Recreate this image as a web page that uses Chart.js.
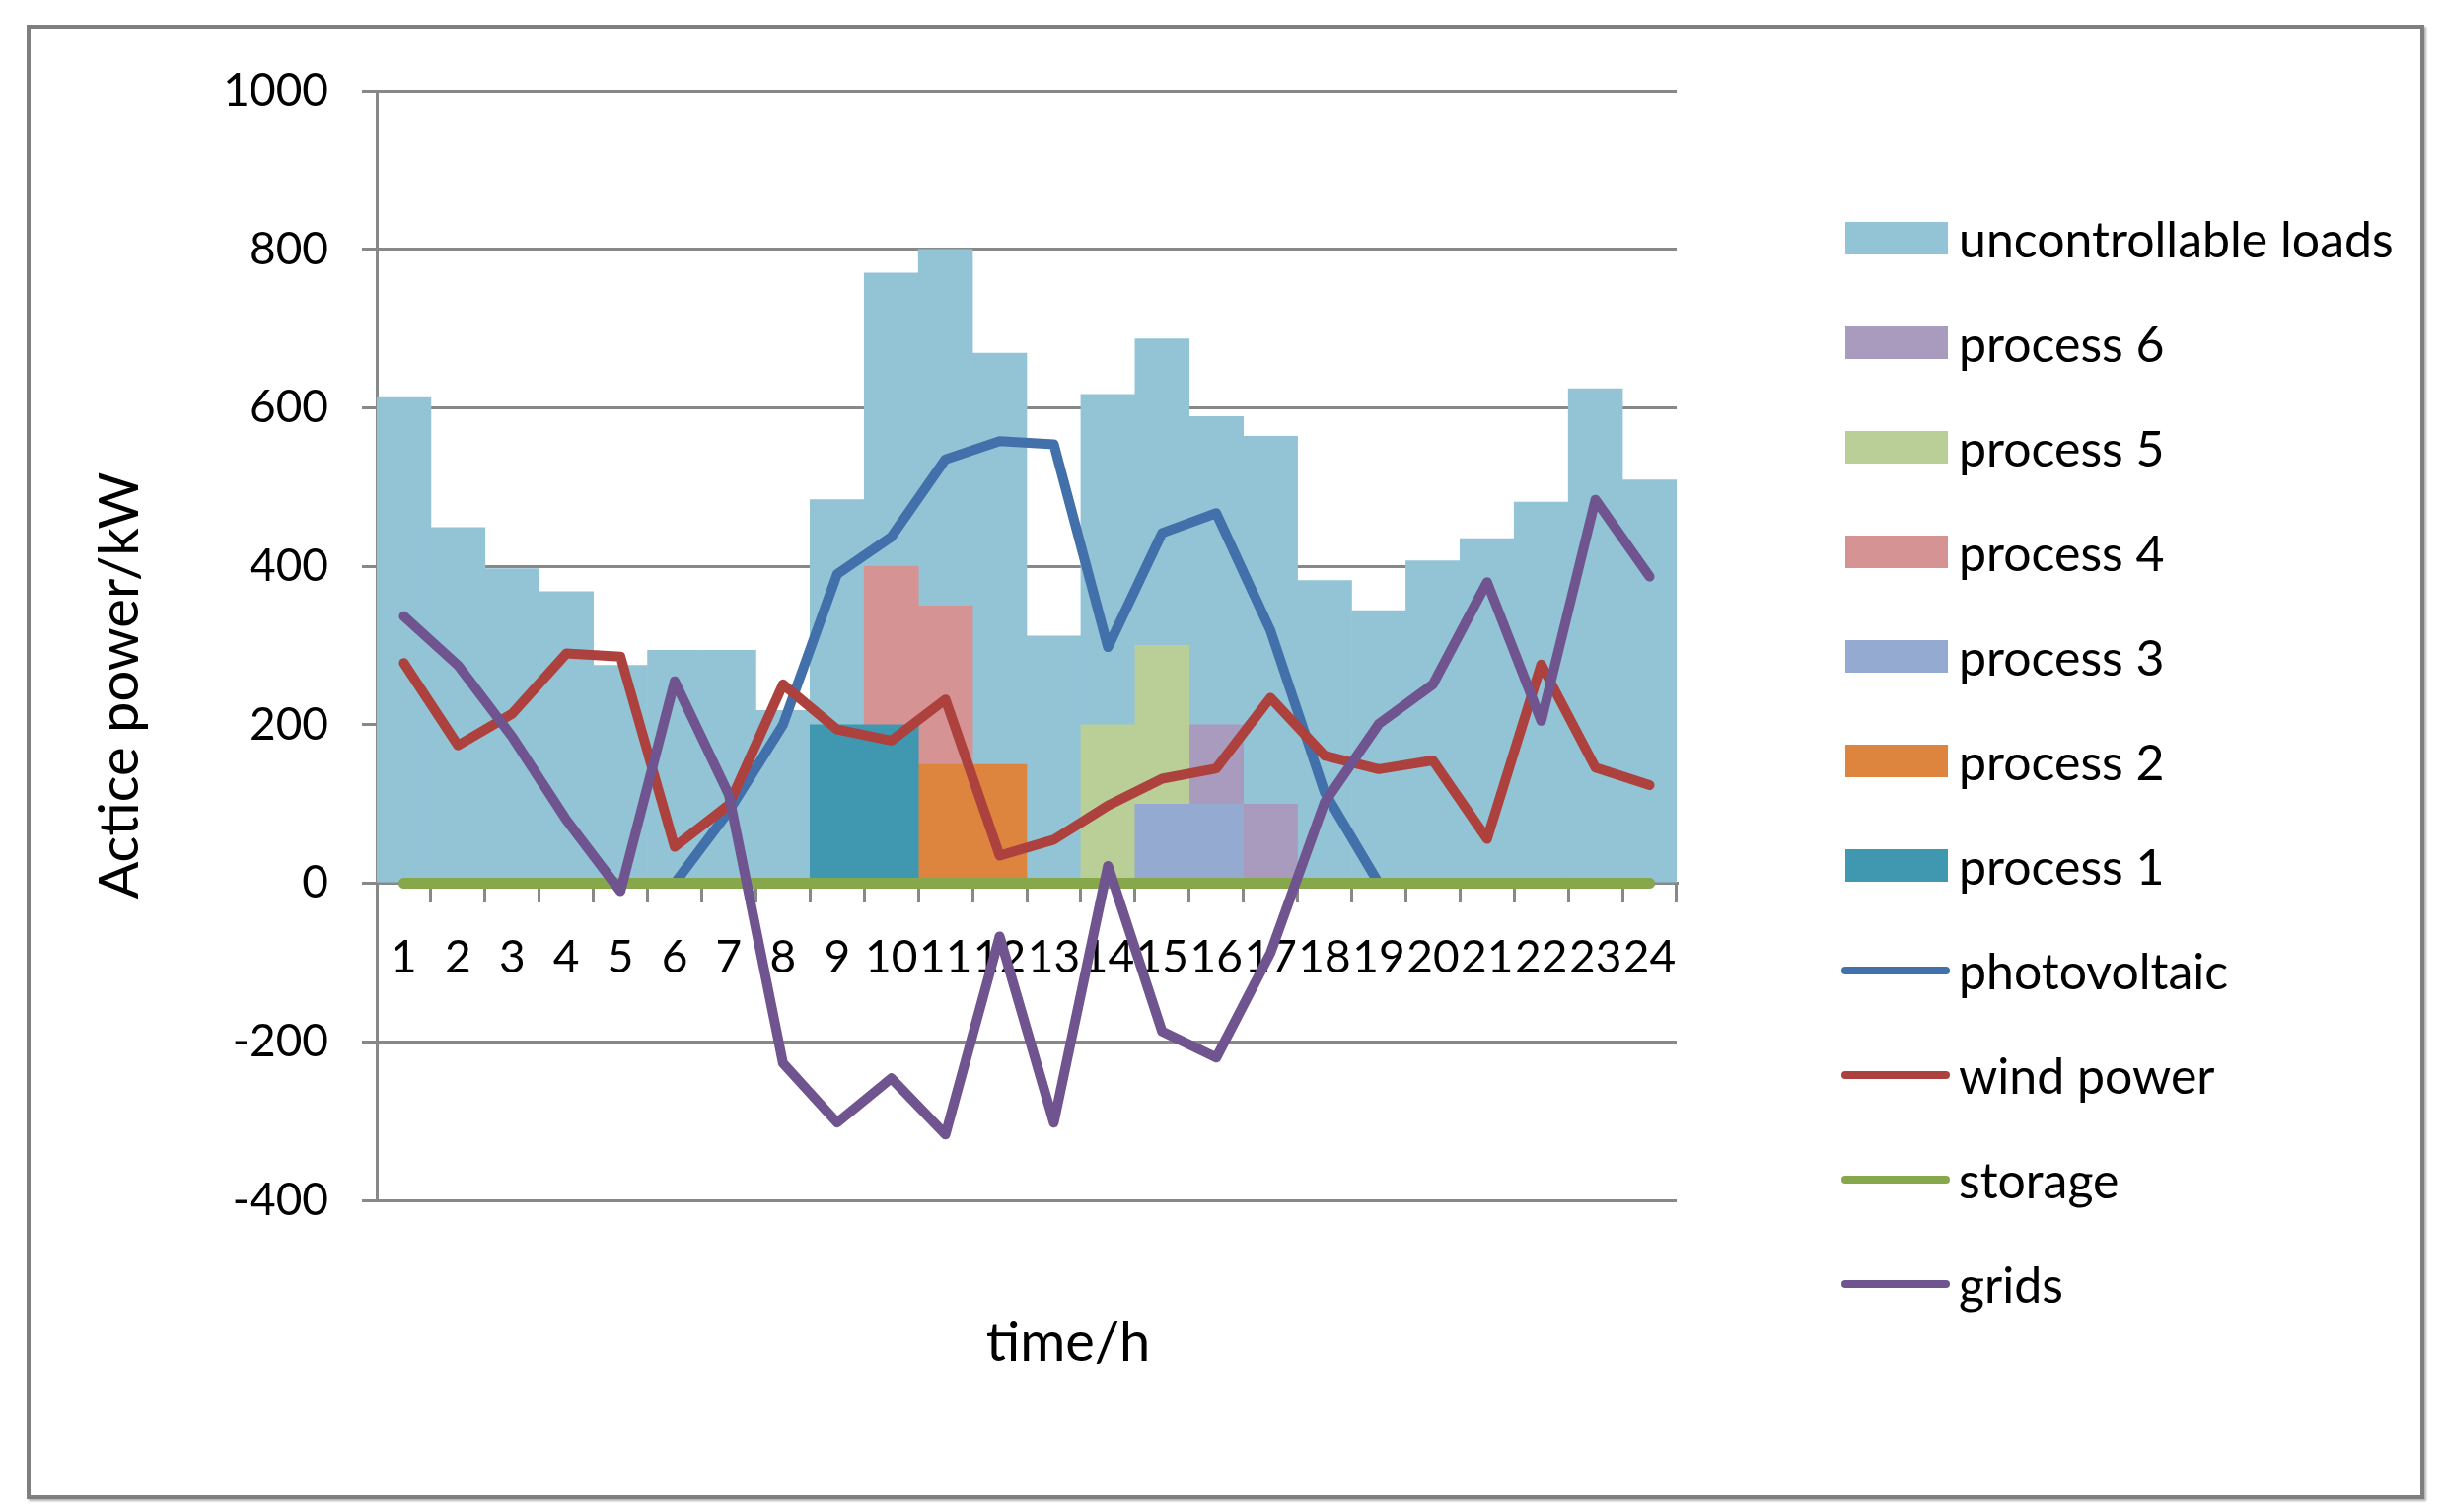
<!DOCTYPE html>
<html>
<head>
<meta charset="utf-8">
<title>Active power schedule</title>
<script src="https://cdn.jsdelivr.net/npm/chart.js@4.4.1/dist/chart.umd.min.js"></script>
<style>
  html, body { margin: 0; padding: 0; background: #fff; }
  .frame {
    position: absolute; left: 27px; top: 25px; width: 2431px; height: 1495px;
    box-sizing: border-box; border: 4px solid #7f7f7f; box-shadow: 2px 2px 2px #b5b5b5;
  }
  #powerChart { position: absolute; left: 0; top: 0; }
  #legend {
    position: absolute; left: 1867px; top: 217px; margin: 0; padding: 0;
    list-style: none; font-family: Lato, sans-serif; font-size: 50px; color: #000;
  }
  #legend li { display: flex; align-items: center; height: 50px; margin-bottom: 56px; white-space: nowrap; }
  #legend .swatch { width: 110px; height: 50px; position: relative; flex: none; }
  #legend .swatch span { position: absolute; display: block; }
  #legend .rect span { left: 4px; width: 104px; top: 8px; height: 33px; }
  #legend .line span { left: 0; width: 110px; top: 21px; height: 8px; border-radius: 4px; }
  #legend .text { margin-left: 9px; line-height: 50px; }
</style>
</head>
<body>
<div class="frame"></div>
<canvas id="powerChart" width="2477" height="1533"></canvas>
<ul id="legend"></ul>
<script>
// Hours and tick labels
const hours = ["1","2","3","4","5","6","7","8","9","10","11","12","13","14","15","16","17","18","19","20","21","22","23","24"];
const yTicks = [-400, -200, 0, 200, 400, 600, 800, 1000];

// Stacked columns (kW), process 1 at the bottom, uncontrollable loads on top
const process1 = [null,null,null,null,null,null,null,null,200,200,null,null,null,null,null,null,null,null,null,null,null,null,null,null];
const process2 = [null,null,null,null,null,null,null,null,null,null,150,150,null,null,null,null,null,null,null,null,null,null,null,null];
const process3 = [null,null,null,null,null,null,null,null,null,null,null,null,null,null,100,100,null,null,null,null,null,null,null,null];
const process4 = [null,null,null,null,null,null,null,null,null,200,200,null,null,null,null,null,null,null,null,null,null,null,null,null];
const process5 = [null,null,null,null,null,null,null,null,null,null,null,null,null,200,200,null,null,null,null,null,null,null,null,null];
const process6 = [null,null,null,null,null,null,null,null,null,null,null,null,null,null,null,100,100,null,null,null,null,null,null,null];
const uncontrollable = [613,449,397,368,275,294,294,218,284,370,450,519,312,417,387,389,464,382,344,407,435,481,624,509];

// Line series (kW)
const photovoltaic = [0,0,0,0,0,0,91,200,390,437,535,558,554,298,442,467,319,115,0,0,0,0,0,0];
const windPower = [278,174,214,290,286,46,99,251,194,180,232,35,55,98,132,145,234,161,144,155,56,276,146,124];
const storage = [0,0,0,0,0,0,0,0,0,0,0,0,0,0,0,0,0,0,0,0,0,0,0,0];
const grids = [337,275,185,80,-10,255,112,-227,-302,-246,-317,-67,-302,22,-187,-220,-88,102,201,251,380,205,484,387];

const gridGray = "#888888";

function lineSet(label, data, color, width) {
  return {
    type: "line",
    label: label,
    data: data,
    stack: label,
    borderColor: color,
    backgroundColor: color,
    borderWidth: width,
    borderCapStyle: "round",
    borderJoinStyle: "round",
    pointRadius: 0,
    pointHoverRadius: 0,
    tension: 0,
    fill: false,
  };
}

function barSet(label, data, color) {
  return {
    type: "bar",
    label: label,
    data: data,
    stack: "load",
    backgroundColor: color,
    borderWidth: 0,
    categoryPercentage: 1,
    barPercentage: 1,
  };
}

// Axis titles sit where the original figure put them
const axisTitles = {
  id: "axisTitles",
  afterDraw(chart) {
    const c = chart.ctx;
    c.save();
    c.fillStyle = "#000";
    c.font = "56px Lato";
    c.textAlign = "center";
    c.textBaseline = "alphabetic";
    c.fillText("time/h", 1083, 1380);
    c.translate(140, 695);
    c.rotate(-Math.PI / 2);
    c.fillText("Actice power/kW", 0, 0);
    c.restore();
  },
};

// Legend built from the datasets, listed top of stack first
const htmlLegend = {
  id: "htmlLegend",
  afterUpdate(chart) {
    const list = document.getElementById("legend");
    list.innerHTML = "";
    chart.data.datasets.slice().reverse().forEach((ds) => {
      const li = document.createElement("li");
      const swatch = document.createElement("div");
      swatch.className = "swatch " + (ds.type === "line" ? "line" : "rect");
      const mark = document.createElement("span");
      mark.style.background = ds.type === "line" ? ds.borderColor : ds.backgroundColor;
      swatch.appendChild(mark);
      const text = document.createElement("div");
      text.className = "text";
      text.textContent = ds.label;
      li.appendChild(swatch);
      li.appendChild(text);
      list.appendChild(li);
    });
  },
};

Chart.defaults.font.family = "Lato";
Chart.defaults.color = "#000";

const ctx = document.getElementById("powerChart").getContext("2d");
const powerChart = new Chart(ctx, {
  type: "bar",
  data: {
    labels: hours,
    datasets: [
      lineSet("grids", grids, "#70548F", 10),
      lineSet("storage", storage, "#87A74B", 11),
      lineSet("wind power", windPower, "#AD413D", 10),
      lineSet("photovoltaic", photovoltaic, "#4270AB", 10),
      barSet("process 1", process1, "#3F97B0"),
      barSet("process 2", process2, "#DD843F"),
      barSet("process 3", process3, "#94AAD0"),
      barSet("process 4", process4, "#D59393"),
      barSet("process 5", process5, "#B9CF97"),
      barSet("process 6", process6, "#A99BBE"),
      barSet("uncontrollable loads", uncontrollable, "#93C4D6"),
    ],
  },
  options: {
    responsive: false,
    animation: false,
    devicePixelRatio: 1,
    layout: { padding: { left: 89, right: 777, top: 11, bottom: 0 } },
    scales: {
      x: {
        type: "category",
        stacked: true,
        position: { y: 0 },
        offset: true,
        grid: {
          drawOnChartArea: false,
          drawTicks: true,
          tickLength: 18,
          color: gridGray,
          lineWidth: 3,
          offset: true,
        },
        border: { display: true, color: gridGray, width: 3 },
        ticks: {
          autoSkip: false,
          maxRotation: 0,
          minRotation: 0,
          padding: 30,
          font: { size: 46 },
        },
      },
      y: {
        type: "linear",
        stacked: true,
        min: yTicks[0],
        max: yTicks[yTicks.length - 1],
        afterBuildTicks: (axis) => {
          axis.ticks = yTicks.map((v) => ({ value: v }));
        },
        afterFit: (axis) => {
          axis.width = 293;
        },
        grid: { color: gridGray, lineWidth: 3, tickLength: 15 },
        border: { display: true, color: gridGray, width: 3 },
        ticks: {
          padding: 34,
          font: { size: 46 },
          callback: (value) => String(value),
        },
      },
      // spacers that hold the plot area in place
      xTop: {
        type: "category",
        position: "top",
        grid: { display: false },
        border: { display: false },
        ticks: { display: false },
        afterFit: (axis) => {
          axis.height = 81;
        },
      },
      xBottom: {
        type: "category",
        position: "bottom",
        grid: { display: false },
        border: { display: false },
        ticks: { display: false },
        afterFit: (axis) => {
          axis.height = 316;
        },
      },
    },
    plugins: {
      tooltip: { enabled: false },
      legend: { display: false },
    },
  },
  plugins: [axisTitles, htmlLegend],
});
</script>
</body>
</html>
